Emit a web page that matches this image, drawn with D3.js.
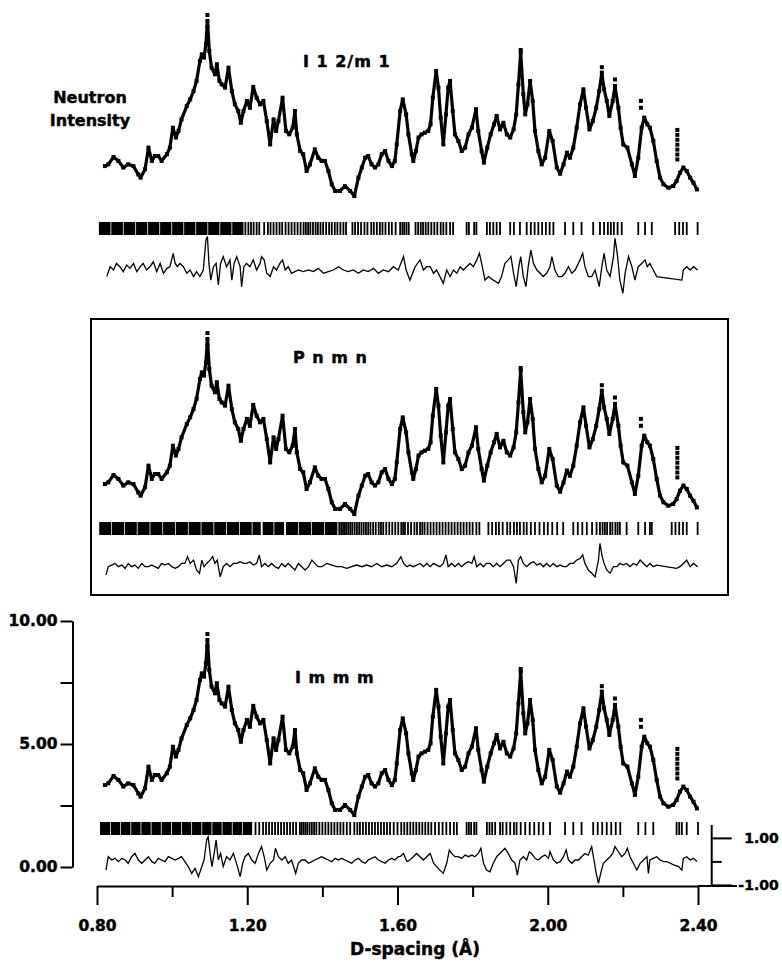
<!DOCTYPE html>
<html>
<head>
<meta charset="utf-8">
<script src="https://cdn.jsdelivr.net/npm/d3@7/dist/d3.min.js"></script>
<style>
  body { margin: 0; background: #fff; }
  svg text { font-family: "DejaVu Sans", sans-serif; font-weight: bold; fill: #000; stroke: #000; stroke-width: 0.45px; }
</style>
</head>
<body>
<svg width="782" height="962"></svg>
<script>
// observed profile (same data, three fits)
var dSpacing = [0.821,0.830,0.844,0.857,0.870,0.883,0.897,0.910,0.916,0.928,0.937,0.946,0.954,0.963,0.972,0.986,0.994,1.002,1.010,1.017,1.025,1.039,1.048,1.057,1.065,1.074,1.079,1.085,1.090,1.094,1.099,1.105,1.114,1.119,1.126,1.132,1.141,1.150,1.159,1.167,1.176,1.183,1.190,1.199,1.207,1.216,
  1.225,1.234,1.243,1.252,1.261,1.270,1.277,1.283,1.294,1.303,1.312,1.321,1.327,1.332,1.341,1.349,1.358,1.367,1.380,1.389,1.398,1.407,1.416,1.425,1.434,1.447,1.460,1.474,1.485,1.496,1.505,1.514,1.522,1.531,1.540,1.549,1.558,1.567,1.576,1.585,1.593,1.598,1.607,
  1.614,1.623,1.629,1.638,1.642,1.649,1.656,1.664,1.673,1.682,1.688,1.694,1.703,1.709,1.715,1.722,1.729,1.735,1.740,1.747,1.753,1.762,1.771,1.780,1.789,1.798,1.809,1.815,1.824,1.830,1.839,1.848,1.857,1.864,1.873,1.882,1.891,1.900,1.909,1.916,1.922,1.928,1.935,1.940,1.946,1.953,1.960,1.966,1.975,1.984,1.993,2.004,2.013,
  2.024,2.033,2.042,2.051,2.059,2.068,2.077,2.086,2.095,2.102,2.111,2.120,2.129,2.137,2.144,2.150,2.157,2.164,2.173,2.179,2.188,2.194,2.201,2.212,2.224,2.232,2.241,2.250,2.257,2.265,2.272,2.281,2.290,2.299,2.308,2.321,2.334,2.343,2.352,2.361,2.370,2.379,2.388,2.397];
var intensity = [3.33,3.40,3.70,3.54,3.27,3.40,3.33,2.99,2.86,3.20,4.08,3.54,3.74,3.74,3.54,3.81,4.08,4.89,4.49,4.76,5.23,5.77,6.04,6.38,6.79,7.60,7.87,7.74,8.28,9.23,8.01,7.33,7.06,7.47,6.79,6.65,6.52,7.33,6.38,5.84,5.57,5.09,5.57,5.98,5.70,6.55,
  6.11,5.84,5.98,5.16,4.21,5.23,4.76,5.16,6.11,4.76,4.62,4.89,5.57,4.62,3.94,3.81,3.13,3.40,4.01,3.67,3.54,3.54,3.13,2.59,2.32,2.32,2.52,2.32,2.11,2.86,3.27,3.67,3.74,3.40,3.27,3.40,3.81,3.94,3.54,3.33,3.54,4.21,5.57,
  6.04,5.43,4.62,3.81,3.54,3.94,4.49,4.62,4.69,4.76,5.03,6.11,7.20,6.52,5.30,4.21,5.43,6.52,6.79,5.57,4.62,4.35,3.94,4.08,4.62,4.89,5.64,4.76,3.94,3.47,4.08,4.62,5.03,5.37,4.82,5.09,4.62,4.49,4.82,5.43,6.65,7.94,6.25,5.43,5.84,6.79,5.98,4.76,3.94,3.40,3.67,4.76,4.35,
  3.27,3.02,3.40,3.88,3.67,4.08,4.89,5.84,6.45,5.70,4.82,5.16,5.70,6.38,7.13,6.45,5.98,5.37,5.98,6.59,5.70,4.89,4.21,4.08,3.40,2.93,3.67,4.89,5.30,5.03,4.89,4.35,3.54,2.86,2.59,2.45,2.52,2.72,3.06,3.27,3.13,2.86,2.65,2.38];

// observed points lying off the fitted curve
var strayD = [1.094,1.094,1.928,2.144,2.179,2.248,2.248,2.345,2.345,2.345,2.345,2.345,2.345,2.345];
var strayI = [9.47,9.0,8.05,7.35,6.85,5.98,5.70,4.80,4.60,4.40,4.20,4.00,3.80,3.60];

// reflection markers: solid runs and single ticks
var bandsI12m1 = [[0.805,0.836],[0.838,0.869],[0.871,0.902],[0.904,0.934],[0.936,0.966],[0.968,0.998],[1.0,1.03],[1.032,1.062],[1.064,1.094],[1.096,1.126],[1.128,1.158],[1.16,1.19]];
var ticksI12m1 = [1.195,1.203,1.21,1.217,1.225,1.232,1.245,1.255,1.262,1.27,1.278,1.286,1.293,1.302,1.31,1.318,1.326,1.334,1.342,1.35,1.356,1.362,1.368,1.375,1.382,1.388,1.395,1.402,1.41,1.418,1.425,1.433,1.44,1.448,1.456,1.463,1.48,1.487,1.495,1.503,1.512,1.52,1.53,1.537,1.545,1.553,1.56,1.568,1.577,1.585,1.595,1.607,1.613,1.618,1.624,1.63,1.648,1.655,1.662,1.668,1.675,1.682,1.69,1.698,1.706,1.715,1.722,1.73,1.74,1.748,1.784,1.79,1.804,1.81,1.838,1.846,1.855,1.864,1.873,1.9,1.91,1.926,1.944,1.955,1.965,1.975,1.985,1.995,2.005,2.015,2.046,2.068,2.09,2.121,2.139,2.15,2.16,2.168,2.176,2.186,2.197,2.241,2.259,2.277,2.339,2.35,2.36,2.37,2.399];

var bandsPnmn = [[0.806,0.838],[0.84,0.872],[0.874,0.906],[0.908,0.94],[0.942,0.974],[0.976,1.008],[1.01,1.042],[1.044,1.076],[1.078,1.11],[1.112,1.144],[1.146,1.178],[1.18,1.212],[1.214,1.236],[1.241,1.27],[1.272,1.298],[1.303,1.335],[1.337,1.37],[1.372,1.405],[1.407,1.44]];
var ticksPnmn = [1.445,1.45,1.455,1.46,1.465,1.47,1.475,1.48,1.486,1.492,1.498,1.504,1.51,1.516,1.522,1.528,1.535,1.542,1.55,1.556,1.562,1.57,1.578,1.586,1.594,1.602,1.61,1.615,1.62,1.628,1.636,1.645,1.652,1.66,1.666,1.672,1.68,1.688,1.696,1.704,1.712,1.72,1.728,1.736,1.744,1.752,1.76,1.768,1.776,1.784,1.792,1.8,1.81,1.818,1.842,1.852,1.862,1.87,1.88,1.892,1.9,1.91,1.918,1.926,1.936,1.944,1.955,1.966,1.978,1.99,2.0,2.012,2.025,2.041,2.068,2.08,2.092,2.104,2.118,2.13,2.139,2.146,2.152,2.158,2.166,2.172,2.18,2.186,2.192,2.21,2.241,2.259,2.272,2.277,2.33,2.34,2.35,2.36,2.37,2.399];

var bandsImmm = [[0.808,0.835],[0.837,0.862],[0.864,0.889],[0.891,0.916],[0.918,0.943],[0.945,0.97],[0.972,0.997],[0.999,1.024],[1.026,1.051],[1.053,1.078],[1.08,1.105],[1.107,1.132],[1.134,1.159],[1.161,1.186],[1.188,1.213]];
var ticksImmm = [1.222,1.232,1.242,1.25,1.258,1.266,1.274,1.282,1.29,1.298,1.306,1.314,1.322,1.33,1.34,1.345,1.35,1.355,1.36,1.366,1.372,1.378,1.384,1.392,1.4,1.408,1.416,1.424,1.432,1.44,1.448,1.456,1.465,1.474,1.485,1.493,1.5,1.508,1.516,1.524,1.532,1.54,1.548,1.556,1.564,1.572,1.58,1.59,1.6,1.61,1.618,1.626,1.634,1.642,1.65,1.658,1.666,1.674,1.682,1.69,1.7,1.71,1.72,1.73,1.74,1.75,1.758,1.784,1.79,1.796,1.804,1.81,1.838,1.845,1.852,1.86,1.873,1.88,1.89,1.9,1.91,1.917,1.928,1.94,1.952,1.964,1.976,1.988,2.006,2.046,2.068,2.09,2.121,2.133,2.145,2.157,2.169,2.181,2.193,2.241,2.26,2.281,2.343,2.35,2.357,2.37,2.4];

// difference curves (obs - calc), [d, diff]
var diffI12m1 = [[0.826,-0.28],[0.835,0.14],[0.844,0],[0.852,0.28],[0.861,0.14],[0.870,-0.07],[0.879,0.21],[0.888,0.07],[0.897,0.28],[0.906,-0.07],[0.915,0.14],[0.923,0.28],[0.932,0],[0.941,0.14],[0.950,0.35],[0.959,-0.07],[0.968,0.28],[0.977,-0.14],[0.986,0.07],[0.994,0.14],[1.003,0.71],[1.008,0.28],[1.014,0.14],[1.021,0.28],[1.030,0.14],[1.039,-0.14],[1.048,0],[1.057,-0.28],[1.065,-0.07],[1.074,-0.28],[1.083,0],[1.090,1.28],[1.094,1.42],[1.098,0.28],[1.103,-0.43],[1.110,0.14],[1.117,0.28],[1.123,-0.64],[1.129,0.28],[1.136,0.57],[1.145,0.14],[1.154,0.43],[1.159,-0.43],[1.165,0.28],[1.172,0.57],[1.181,0.14],[1.185,-0.71],[1.191,0.14],[1.198,0.28],[1.207,0.14],[1.216,0.43],[1.225,0],[1.234,0.28],[1.238,0.57],[1.245,0.43],[1.252,-0.14],[1.261,-0.28],[1.270,0.14],[1.278,0],[1.287,0.28],[1.294,0.43],[1.301,0],[1.309,0.14],[1.318,-0.14],[1.327,-0.07],[1.336,0],[1.349,-0.07],[1.363,0],[1.376,-0.07],[1.389,0.07],[1.403,-0.14],[1.416,-0.07],[1.429,0],[1.443,0.14],[1.456,0],[1.469,-0.07],[1.482,0],[1.496,-0.14],[1.509,0],[1.522,-0.07],[1.536,0.07],[1.549,-0.14],[1.562,0],[1.576,-0.07],[1.589,0.14],[1.602,0],[1.616,0.57],[1.623,0],[1.633,-0.43],[1.647,0.14],[1.660,0.43],
  [1.669,0],[1.678,0.14],[1.687,0.14],[1.696,-0.14],[1.704,0],[1.713,-0.28],[1.722,-0.57],[1.731,0],[1.740,-0.28],[1.749,0],[1.758,-0.14],[1.767,0.14],[1.775,0],[1.784,0.14],[1.793,0.28],[1.802,0.14],[1.811,0.43],[1.818,0.71],[1.824,0.28],[1.833,-0.43],[1.842,-0.28],[1.855,-0.43],[1.869,-0.57],[1.877,-0.28],[1.886,0.28],[1.895,0.43],[1.902,0.57],[1.909,-0.14],[1.916,-0.71],[1.923,0.14],[1.928,0.57],[1.935,-0.28],[1.942,-0.71],[1.948,0.14],[1.955,0.85],[1.962,0.28],[1.971,0],[1.980,-0.14],[1.988,-0.28],[1.997,-0.14],[2.006,0.14],[2.011,0.57],[2.019,0],[2.028,-0.28],[2.037,-0.28],[2.046,-0.14],[2.055,0.14],[2.064,-0.14],[2.073,0],[2.086,0.43],[2.093,0.71],[2.099,0.14],[2.108,-0.28],[2.117,-0.28],[2.126,0],[2.137,-0.71],[2.144,0.14],[2.150,0.71],[2.157,0],[2.166,-0.28],[2.175,0.57],[2.179,1.35],[2.185,0.71],[2.192,-0.43],[2.200,-0.99],[2.206,-0.14],[2.215,0.57],[2.224,0.14],[2.232,-0.43],[2.241,0.14],[2.250,0.28],[2.259,0.43],[2.265,0.14],[2.272,0.28],[2.281,0],[2.290,-0.28],[2.357,-0.43],[2.361,0],[2.370,0.14],[2.379,0],[2.388,0.14],[2.399,0]];

var diffPnmn = [[0.824,-0.35],[0.830,0],[0.839,0.07],[0.848,0.14],[0.857,0],[0.866,0.07],[0.875,-0.07],[0.883,0.14],[0.892,0],[0.901,0.07],[0.910,-0.07],[0.919,0.14],[0.928,0],[0.937,0],[0.946,0.07],[0.954,0],[0.963,-0.07],[0.972,0.14],[0.981,0.07],[0.990,0.14],[0.999,0],[1.008,-0.07],[1.017,0],[1.025,0.14],[1.034,0.14],[1.041,0.43],[1.048,0.14],[1.057,0.28],[1.065,-0.14],[1.073,-0.28],[1.079,0.28],[1.085,0],[1.092,0.14],[1.101,0.28],[1.108,0.43],[1.114,0.14],[1.120,0.28],[1.128,-0.43],[1.136,0],[1.145,0.14],[1.154,0],[1.163,0.14],[1.172,0.14],[1.181,0.21],[1.190,0.14],[1.199,0.14],[1.207,0.21],[1.216,0.07],[1.225,0.14],[1.232,0.50],[1.238,0],[1.247,0.14],[1.256,0],[1.265,0.14],[1.274,0],[1.283,-0.07],[1.292,0.14],[1.301,0],[1.309,0.14],[1.318,0],[1.327,-0.14],[1.336,0.14],[1.345,0],[1.354,-0.14],[1.363,0],[1.372,0.28],[1.380,0.14],[1.389,0],[1.398,0],[1.412,0.14],[1.425,0.07],[1.438,0],[1.451,0],[1.465,-0.07],[1.478,0],[1.491,0.07],[1.505,0],[1.518,0.07],[1.531,0],[1.545,0.14],[1.558,0],[1.571,0.07],[1.585,0],[1.598,0.14],[1.609,0.43],[1.616,0.14],[1.625,0],[1.633,0.07],
  [1.642,0],[1.651,0.07],[1.660,0.14],[1.669,0],[1.678,0.14],[1.687,0],[1.696,0.14],[1.704,0.07],[1.713,0],[1.722,0.14],[1.729,0.50],[1.735,0],[1.744,0.14],[1.753,0],[1.762,0.14],[1.771,0],[1.780,0.14],[1.789,0.21],[1.798,0.14],[1.804,0.43],[1.811,0],[1.820,0.14],[1.829,0],[1.837,0.14],[1.846,0.14],[1.855,0],[1.864,0.14],[1.873,0],[1.882,0.14],[1.891,0.28],[1.900,0.28],[1.909,0],[1.916,-0.71],[1.922,0.28],[1.928,0.43],[1.935,0.14],[1.944,0],[1.953,0.14],[1.962,0.21],[1.971,0.07],[1.980,0.14],[1.988,0],[1.997,0.14],[2.006,0],[2.015,0.14],[2.024,0],[2.033,0.07],[2.042,0],[2.050,0],[2.059,0.14],[2.068,0.14],[2.077,0.28],[2.086,0.35],[2.093,0.50],[2.099,0.14],[2.108,-0.14],[2.117,-0.28],[2.126,-0.43],[2.135,0.28],[2.139,0.99],[2.145,0.43],[2.150,0.14],[2.157,-0.14],[2.166,-0.28],[2.175,0],[2.184,0],[2.192,0.14],[2.201,0.07],[2.210,0.14],[2.219,0],[2.228,0.14],[2.237,0.07],[2.246,0.28],[2.255,0.14],[2.264,0],[2.272,0.14],[2.281,0],[2.290,0.07],[2.343,-0.07],[2.352,0],[2.361,0.14],[2.370,0.28],[2.379,0],[2.388,0.14],[2.399,0]];

var diffImmm = [[0.824,-0.37],[0.830,0.20],[0.839,0.06],[0.848,0.13],[0.857,-0.01],[0.866,0.13],[0.875,0.06],[0.883,-0.08],[0.892,0.20],[0.901,0.34],[0.910,0.06],[0.919,-0.08],[0.928,0.06],[0.937,0.20],[0.946,-0.01],[0.954,-0.08],[0.963,0.13],[0.972,0.06],[0.981,-0.01],[0.990,0.20],[0.999,0.13],[1.008,0.06],[1.017,0.13],[1.025,0.20],[1.034,-0.01],[1.043,-0.22],[1.052,-0.51],[1.061,-0.30],[1.070,-0.65],[1.079,-0.22],[1.085,0.06],[1.092,0.91],[1.096,1.05],[1.101,0.34],[1.106,-0.22],[1.112,0.34],[1.117,0.91],[1.123,0.06],[1.129,0.34],[1.136,-0.22],[1.145,0.20],[1.154,0.06],[1.163,0.34],[1.174,-0.22],[1.181,-0.65],[1.188,-0.08],[1.194,0.20],[1.203,0.34],[1.212,0.06],[1.221,-0.08],[1.230,0.34],[1.238,0.63],[1.245,0.20],[1.252,-0.37],[1.261,-0.08],[1.270,0.06],[1.275,0.56],[1.283,0.20],[1.292,0.06],[1.301,0.20],[1.309,-0.08],[1.318,0.06],[1.329,-0.51],[1.336,-0.08],[1.345,0.06],[1.354,0.06],[1.363,-0.08],[1.372,-0.01],[1.380,0.06],[1.389,0.13],[1.398,0.20],[1.407,0.13],[1.416,0.06],[1.425,-0.01],[1.434,0.13],[1.443,0.06],[1.451,0.13],[1.460,0.06],[1.469,-0.01],[1.478,-0.08],[1.487,0.06],[1.496,0.13],[1.505,-0.01],[1.514,-0.08],[1.522,0.06],[1.531,0.13],[1.540,0.20],[1.549,0.06],[1.558,-0.01],[1.567,-0.08],[1.576,0.06],[1.585,0.13],[1.593,0.06],[1.602,0.20],
  [1.607,0.20],[1.616,0.34],[1.625,-0.01],[1.633,0.06],[1.642,0.20],[1.651,0.34],[1.660,0.20],[1.669,0.06],[1.678,0.20],[1.687,0.34],[1.696,-0.08],[1.704,-0.22],[1.713,-0.37],[1.722,-0.51],[1.731,-0.08],[1.738,0.49],[1.744,0.34],[1.753,0.20],[1.762,0.20],[1.771,0.13],[1.780,0.27],[1.789,0.20],[1.798,0.27],[1.806,0.20],[1.815,0.34],[1.822,0.56],[1.829,-0.08],[1.837,-0.37],[1.846,-0.44],[1.855,-0.08],[1.864,0.20],[1.877,0.41],[1.886,0.56],[1.895,0.34],[1.904,0.06],[1.913,-0.08],[1.919,-0.58],[1.926,0.06],[1.935,0.20],[1.944,0.06],[1.951,0.41],[1.957,0.34],[1.966,0.13],[1.975,0.06],[1.984,0.20],[1.993,0.27],[2.002,0.13],[2.006,0.41],[2.015,0.06],[2.024,-0.08],[2.033,-0.01],[2.042,0.20],[2.049,0.49],[2.055,0.06],[2.064,-0.08],[2.073,0.06],[2.082,0.06],[2.090,0.20],[2.099,0.34],[2.108,0.27],[2.117,0.63],[2.123,0.06],[2.129,-0.51],[2.135,-0.93],[2.141,-0.51],[2.148,-0.08],[2.157,0.06],[2.166,0.20],[2.173,0.34],[2.179,0.63],[2.188,0.41],[2.197,0.20],[2.206,0.34],[2.212,0.56],[2.219,0.20],[2.228,-0.08],[2.237,-0.37],[2.246,-0.08],[2.255,0.06],[2.264,0.20],[2.268,-0.51],[2.272,0.06],[2.281,0.13],[2.290,0.20],[2.299,0.06],[2.308,-0.01],[2.317,-0.01],[2.326,-0.08],[2.335,-0.15],[2.348,-0.22],[2.357,-0.37],[2.361,0.13],[2.370,0.20],[2.379,0.06],[2.388,0.13],[2.397,-0.01]];

var phases = ["I 1 2/m 1", "P n m n", "I m m m"];
var xTicks = [0.8, 1.0, 1.2, 1.4, 1.6, 1.8, 2.0, 2.2, 2.4];
var yTicks = [0, 2.5, 5, 7.5, 10];
var diffTicks = [-1, 0, 1];

var svg = d3.select("svg");
var x = d3.scaleLinear().domain([0.8, 2.4]).range([97, 698]);

var profile = dSpacing.map((d, i) => [d, intensity[i]]);
var stray = strayD.map((d, i) => [d, strayI[i]]);

var panels = [
  { name: phases[0], shift: -619, tickY: 222, diffBase: 270, bands: bandsI12m1, ticks: ticksI12m1, diff: diffI12m1, lx: 303, ly: 67 },
  { name: phases[1], shift: -301, tickY: 522, diffBase: 566.7, bands: bandsPnmn, ticks: ticksPnmn, diff: diffPnmn, lx: 293, ly: 363 },
  { name: phases[2], shift: 0, tickY: 822, diffBase: 861.4, bands: bandsImmm, ticks: ticksImmm, diff: diffImmm, lx: 295, ly: 683 }
];

// box round the middle panel
svg.append("rect")
  .attr("x", 91).attr("y", 319).attr("width", 637).attr("height", 276)
  .attr("fill", "none").attr("stroke", "#000").attr("stroke-width", 2);

panels.forEach(function (p) {
  var y = d3.scaleLinear().domain([0, 10]).range([867 + p.shift, 621 + p.shift]);
  var dy = d3.scaleLinear().domain([-1, 1]).range([p.diffBase + 23.5, p.diffBase - 23.5]);
  var g = svg.append("g");
  p.y = y; p.dy = dy;

  var line = d3.line().x(d => x(d[0])).y(d => y(d[1]));
  g.append("path").datum(profile)
    .attr("d", line).attr("fill", "none")
    .attr("stroke", "#000").attr("stroke-width", 3.2).attr("stroke-linejoin", "round");

  g.selectAll(".obs").data(profile.concat(stray))
    .enter().append("rect").attr("class", "obs")
    .attr("x", d => x(d[0]) - 2).attr("y", d => y(d[1]) - 2)
    .attr("width", 4).attr("height", 4).attr("fill", "#000");

  g.selectAll(".band").data(p.bands)
    .enter().append("rect").attr("class", "band")
    .attr("x", d => x(d[0])).attr("width", d => x(d[1]) - x(d[0]))
    .attr("y", p.tickY).attr("height", 13).attr("fill", "#000");

  g.selectAll(".tick").data(p.ticks)
    .enter().append("line").attr("class", "tick")
    .attr("x1", d => x(d)).attr("x2", d => x(d))
    .attr("y1", p.tickY).attr("y2", p.tickY + 13)
    .attr("stroke", "#000").attr("stroke-width", 1.8);

  g.append("path").datum(p.diff)
    .attr("d", d3.line().x(d => x(d[0])).y(d => dy(d[1])))
    .attr("fill", "none").attr("stroke", "#000").attr("stroke-width", 1.3);

  g.append("text").attr("x", p.lx).attr("y", p.ly)
    .style("font-size", "16px").style("letter-spacing", "1px")
    .text(p.name);
});

// y label of the top panel
svg.append("text").attr("x", 90).attr("y", 103).attr("text-anchor", "middle")
  .style("font-size", "16px").text("Neutron");
svg.append("text").attr("x", 90).attr("y", 126).attr("text-anchor", "middle")
  .style("font-size", "16px").text("Intensity");

// axes on the bottom panel
var yBottom = panels[2].y, dyBottom = panels[2].dy;
var fmt = d3.format(".2f");

var yAxis = svg.append("g").attr("transform", "translate(72.5,0)")
  .call(d3.axisLeft(yBottom).tickValues(yTicks)
    .tickSize(12).tickSizeOuter(0).tickPadding(3)
    .tickFormat(d => d % 5 === 0 ? fmt(d) : ""));

var xAxis = svg.append("g").attr("transform", "translate(0,886)")
  .call(d3.axisBottom(x).tickValues(xTicks)
    .tickSize(19).tickSizeOuter(0).tickPadding(15)
    .tickFormat(d => Math.round(d * 10) % 4 === 0 ? fmt(d) : ""));
xAxis.selectAll(".tick line").attr("y2", d => Math.round(d * 10) % 4 === 0 ? 19 : 11);
xAxis.append("line").attr("x1", 698).attr("x2", 737);

var rAxis = svg.append("g").attr("transform", "translate(711.7,0)")
  .call(d3.axisRight(dyBottom).tickValues(diffTicks)
    .tickSize(20).tickSizeOuter(0).tickPadding(0)
    .tickFormat(d => d === 0 ? "" : (d < 0 ? "-" : "") + fmt(Math.abs(d))));
rAxis.selectAll(".tick line").attr("x2", d => d === 0 ? 10 : 20);
rAxis.select(".domain").attr("d", "M0,825V886");
rAxis.selectAll(".tick text").attr("x", 67).attr("text-anchor", "end");

[yAxis, xAxis, rAxis].forEach(function (a) {
  a.selectAll(".domain, line").attr("stroke", "#000").attr("stroke-width", 2);
  a.selectAll("text").style("font-family", "'DejaVu Sans', sans-serif")
    .style("font-weight", "bold").style("font-size", "15.5px")
    .attr("fill", "#000").attr("stroke", "#000").attr("stroke-width", 0.45);
});
rAxis.selectAll("text").style("font-size", "14px");

svg.append("text").attr("x", 415).attr("y", 955).attr("text-anchor", "middle")
  .style("font-size", "17px").text("D-spacing (Å)");
</script>
</body>
</html>
